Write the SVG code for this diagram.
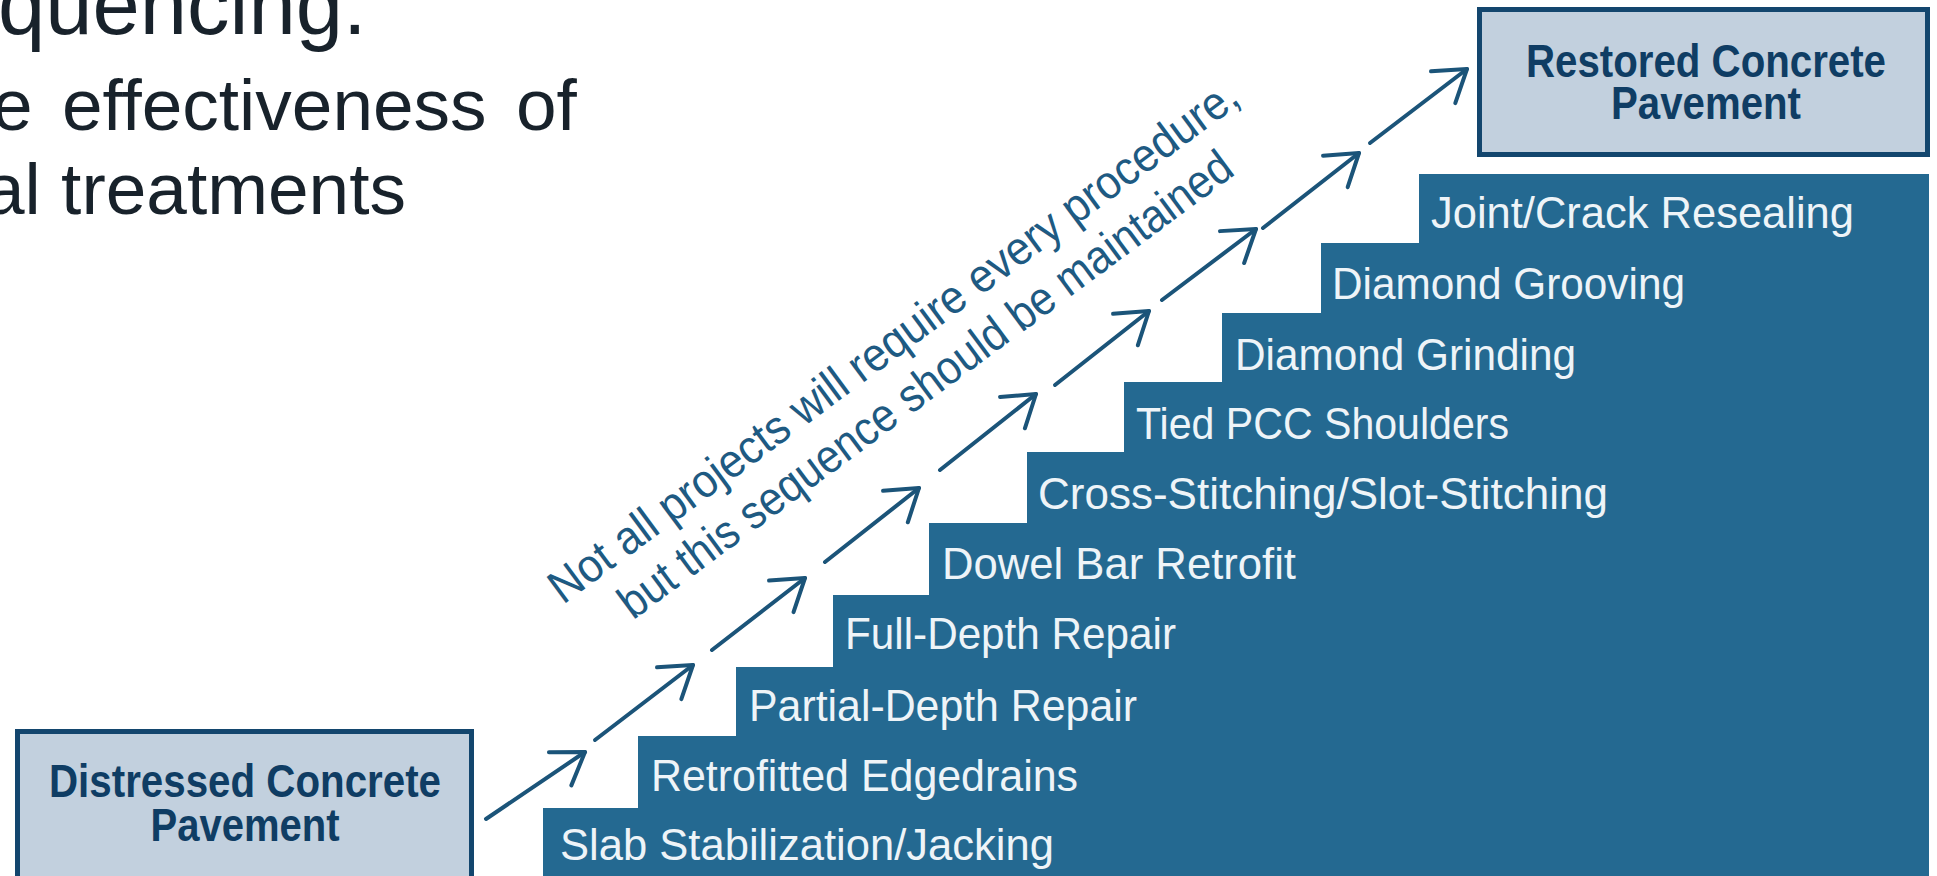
<svg xmlns="http://www.w3.org/2000/svg" width="1937" height="876" viewBox="0 0 1937 876">
<style>
.slide{font-family:"Liberation Sans",Arial,sans-serif;fill:#18222b}
.step{fill:#246991}
.stxt{font-family:"Liberation Sans Narrow","Liberation Sans",Arial,sans-serif;font-size:45px;fill:#eef4f8}
.box{fill:#c2d0de;stroke:#13466e;stroke-width:5}
.btxt{font-family:"Liberation Sans Narrow","Liberation Sans",Arial,sans-serif;font-size:47px;font-weight:bold;fill:#0f3d64;text-anchor:middle}
.arr{stroke:#1b5479;stroke-width:4;fill:none;stroke-linecap:round;marker-end:url(#ah)}
.diag{font-family:"Liberation Sans Narrow","Liberation Sans",Arial,sans-serif;font-size:47px;fill:#1e5a82}
</style>
<defs>
<marker id="ah" markerUnits="userSpaceOnUse" viewBox="-40 -25 46 50" refX="0" refY="0" markerWidth="46" markerHeight="50" orient="auto">
<path d="M-30,-20 L0,0 L-30,20" fill="none" stroke="#1b5479" stroke-width="4" stroke-linecap="round" stroke-linejoin="round"/>
</marker>
</defs>
<rect width="1937" height="876" fill="#ffffff"/>
<g id="slide-text">
<text class="slide" x="-2" y="34" font-size="85">quencing.</text>
<text class="slide" x="-8" y="130" font-size="73" word-spacing="9">e effectiveness of</text>
<text class="slide" x="-16" y="214" font-size="73">al treatments</text>
</g>
<g id="step-slab"><rect class="step" x="543" y="808" width="1386" height="68"/><text class="stxt" x="560" y="860" textLength="494" lengthAdjust="spacingAndGlyphs">Slab Stabilization/Jacking</text></g>
<g id="step-edgedrains"><rect class="step" x="638" y="736" width="1291" height="72"/><text class="stxt" x="651" y="791" textLength="427" lengthAdjust="spacingAndGlyphs">Retrofitted Edgedrains</text></g>
<g id="step-partial"><rect class="step" x="736" y="667" width="1193" height="69"/><text class="stxt" x="749" y="721" textLength="388" lengthAdjust="spacingAndGlyphs">Partial-Depth Repair</text></g>
<g id="step-full"><rect class="step" x="833" y="595" width="1096" height="72"/><text class="stxt" x="845" y="649" textLength="331" lengthAdjust="spacingAndGlyphs">Full-Depth Repair</text></g>
<g id="step-dowel"><rect class="step" x="929" y="523" width="1000" height="72"/><text class="stxt" x="942" y="579" textLength="354" lengthAdjust="spacingAndGlyphs">Dowel Bar Retrofit</text></g>
<g id="step-stitching"><rect class="step" x="1027" y="452" width="902" height="71"/><text class="stxt" x="1038" y="509" textLength="570" lengthAdjust="spacingAndGlyphs">Cross-Stitching/Slot-Stitching</text></g>
<g id="step-shoulders"><rect class="step" x="1124" y="382" width="805" height="70"/><text class="stxt" x="1136" y="439" textLength="373" lengthAdjust="spacingAndGlyphs">Tied PCC Shoulders</text></g>
<g id="step-grinding"><rect class="step" x="1222" y="313" width="707" height="69"/><text class="stxt" x="1235" y="370" textLength="341" lengthAdjust="spacingAndGlyphs">Diamond Grinding</text></g>
<g id="step-grooving"><rect class="step" x="1321" y="243" width="608" height="70"/><text class="stxt" x="1332" y="299" textLength="353" lengthAdjust="spacingAndGlyphs">Diamond Grooving</text></g>
<g id="step-resealing"><rect class="step" x="1419" y="174" width="510" height="69"/><text class="stxt" x="1431" y="228" textLength="423" lengthAdjust="spacingAndGlyphs">Joint/Crack Resealing</text></g>
<g id="node-distressed"><rect class="box" x="17.5" y="731.5" width="454" height="160"/><text class="btxt" x="245" y="797" textLength="392" lengthAdjust="spacingAndGlyphs">Distressed Concrete</text><text class="btxt" x="245" y="841" textLength="189" lengthAdjust="spacingAndGlyphs">Pavement</text></g>
<g id="node-restored"><rect class="box" x="1479.5" y="9.5" width="448" height="145"/><text class="btxt" x="1706" y="77" textLength="360" lengthAdjust="spacingAndGlyphs">Restored Concrete</text><text class="btxt" x="1706" y="119" textLength="190" lengthAdjust="spacingAndGlyphs">Pavement</text></g>
<g id="connectors">
<line class="arr" x1="486" y1="819" x2="585" y2="752"/>
<line class="arr" x1="595" y1="740" x2="693" y2="665"/>
<line class="arr" x1="712" y1="650" x2="805" y2="578"/>
<line class="arr" x1="825" y1="562" x2="919" y2="488"/>
<line class="arr" x1="940" y1="470" x2="1036" y2="394"/>
<line class="arr" x1="1055" y1="385" x2="1149" y2="311"/>
<line class="arr" x1="1162" y1="300" x2="1256" y2="229"/>
<line class="arr" x1="1263" y1="228" x2="1359" y2="153"/>
<line class="arr" x1="1370" y1="143" x2="1467" y2="69"/>
</g>
<g id="note" transform="translate(563,605) rotate(-36.5)">
<text class="diag" x="0" y="0" textLength="845" lengthAdjust="spacingAndGlyphs">Not all projects will require every procedure,</text>
<text class="diag" x="47" y="54" textLength="751" lengthAdjust="spacingAndGlyphs">but this sequence should be maintained</text>
</g>
</svg>
